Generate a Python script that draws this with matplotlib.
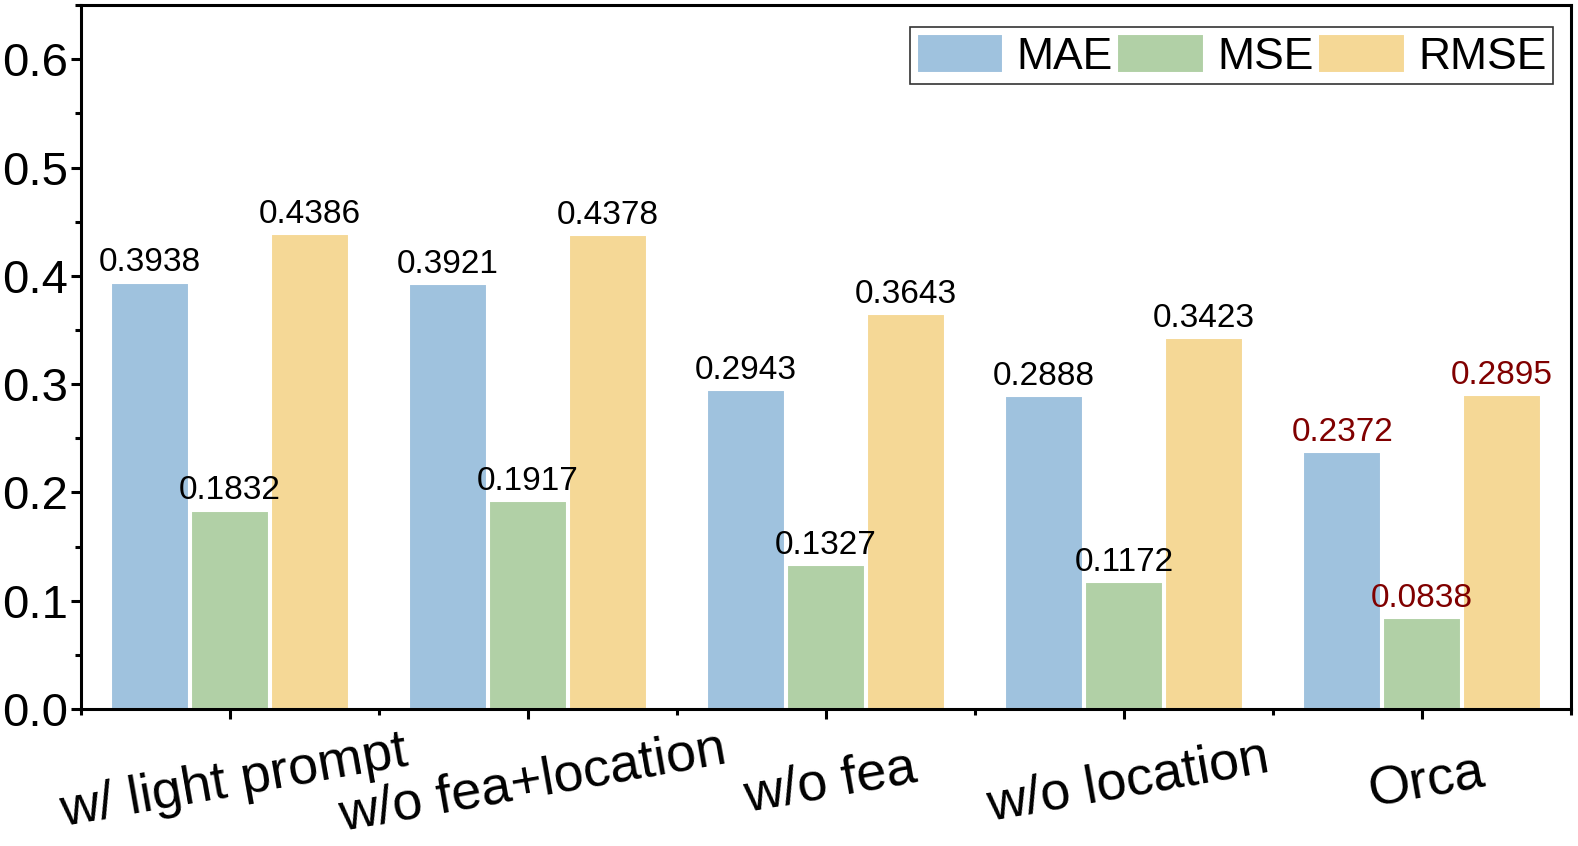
import numpy as np
import matplotlib.pyplot as plt
from matplotlib.ticker import MultipleLocator, FixedLocator

# data
groups = ['w/ light prompt', 'w/o fea+location', 'w/o fea', 'w/o location', 'Orca']
mae = [0.3938, 0.3921, 0.2943, 0.2888, 0.2372]
mse = [0.1832, 0.1917, 0.1327, 0.1172, 0.0838]
rmse = [0.4386, 0.4378, 0.3643, 0.3423, 0.2895]
series_names = ['MAE', 'MSE', 'RMSE']
colors = ['#9fc2de', '#b1d0a6', '#f5d896']

font = 'Liberation Sans'

fig = plt.figure(figsize=(15.78, 8.46), dpi=100)
ax = fig.add_axes([0.0513, 0.162, 0.9443, 0.832])

x = np.arange(len(groups))
w = 0.262
for i, (vals, c, name) in enumerate(zip([mae, mse, rmse], colors, series_names)):
    bars = ax.bar(x + (i - 1) * 0.268, vals, w, color=c, edgecolor='white',
                  linewidth=1.5, label=name)
    for j, b in enumerate(bars):
        col = '#800000' if j == len(groups) - 1 else 'black'
        ax.annotate(f'{vals[j]:.4f}', (b.get_x() + b.get_width() / 2, b.get_height()),
                    xytext=(0, 3), textcoords='offset points', ha='center', va='bottom',
                    fontsize=24, color=col, family=font)

ax.set_xlim(-0.5, 4.5)
ax.set_ylim(0, 0.65)
ax.yaxis.set_minor_locator(MultipleLocator(0.05))
ax.set_yticks([0, 0.1, 0.2, 0.3, 0.4, 0.5, 0.6])
ax.set_yticklabels(['0.0', '0.1', '0.2', '0.3', '0.4', '0.5', '0.6'], family=font, fontsize=34)
ax.set_xticks(x)
ax.xaxis.set_minor_locator(FixedLocator(np.arange(-0.5, 5, 1)))
ax.set_xticklabels(groups, family=font, fontsize=39, rotation=10,
                   ha='center', rotation_mode='anchor', va='top')
ax.tick_params(axis='both', which='major', length=7, width=2.2, direction='out')
ax.tick_params(axis='both', which='minor', length=4, width=2.2, direction='out')
ax.tick_params(axis='y', pad=2)
ax.tick_params(axis='x', pad=28)
for s in ax.spines.values():
    s.set_linewidth(2.2)

leg = ax.legend(ncol=3, loc='upper right', bbox_to_anchor=(0.988, 0.969),
                prop={'family': font, 'size': 32}, frameon=True, fancybox=False,
                handlelength=1.95, handleheight=1.0, handletextpad=0.3,
                columnspacing=0.1, borderpad=0.15, borderaxespad=0)
leg.get_frame().set_edgecolor('black')
leg.get_frame().set_linewidth(1.2)

fig.savefig('out.png', dpi=100)
